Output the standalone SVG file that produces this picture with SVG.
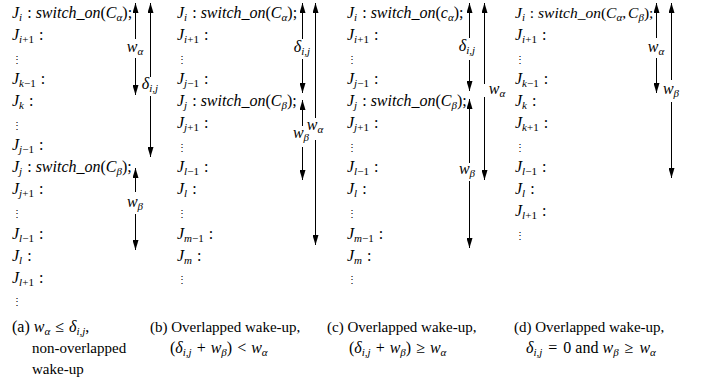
<svg xmlns="http://www.w3.org/2000/svg" width="702" height="385" viewBox="0 0 702 385">
<style>
text{font-family:"Liberation Serif",serif;fill:#000}
.t{font-size:16px}
.c{font-size:15px}
.i{font-style:italic}
.s{font-size:11px}
.d{font-size:10px}
.ln{stroke:#000;stroke-width:1;fill:none;marker-end:url(#ah)}
</style>
<defs>
<marker id="ah" viewBox="0 0 10 6" refX="10" refY="3" markerWidth="10" markerHeight="6" markerUnits="userSpaceOnUse" orient="auto">
<path d="M0,0 L10,3 L0,6 z" fill="#000"/>
</marker>
</defs>
<rect width="702" height="385" fill="#fff"/>

<g id="col-a">
<text class="t" x="12" y="18"><tspan class="i">J</tspan><tspan class="s i" dy="3">i</tspan><tspan dy="-3" dx="1"> : </tspan><tspan class="i">switch</tspan>_<tspan class="i">on</tspan>(<tspan class="i">C</tspan><tspan class="s i" dy="3">α</tspan><tspan dy="-3">);</tspan></text>
<text class="t" x="12" y="40"><tspan class="i">J</tspan><tspan class="s" dy="3"><tspan class="i">i</tspan>+1</tspan><tspan dy="-3" dx="1"> :</tspan></text>
<text class="d" x="12" y="63">⋮</text>
<text class="t" x="12" y="84"><tspan class="i">J</tspan><tspan class="s" dy="3"><tspan class="i">k</tspan>−1</tspan><tspan dy="-3" dx="1"> :</tspan></text>
<text class="t" x="12" y="106"><tspan class="i">J</tspan><tspan class="s i" dy="3">k</tspan><tspan dy="-3" dx="1"> :</tspan></text>
<text class="d" x="12" y="129">⋮</text>
<text class="t" x="12" y="150"><tspan class="i">J</tspan><tspan class="s" dy="3"><tspan class="i">j</tspan>−1</tspan><tspan dy="-3" dx="1"> :</tspan></text>
<text class="t" x="12" y="172"><tspan class="i">J</tspan><tspan class="s i" dy="3">j</tspan><tspan dy="-3" dx="1"> : </tspan><tspan class="i">switch</tspan>_<tspan class="i">on</tspan>(<tspan class="i">C</tspan><tspan class="s i" dy="3">β</tspan><tspan dy="-3">);</tspan></text>
<text class="t" x="12" y="194"><tspan class="i">J</tspan><tspan class="s" dy="3"><tspan class="i">j</tspan>+1</tspan><tspan dy="-3" dx="1"> :</tspan></text>
<text class="d" x="12" y="217">⋮</text>
<text class="t" x="12" y="239"><tspan class="i">J</tspan><tspan class="s" dy="3"><tspan class="i">l</tspan>−1</tspan><tspan dy="-3" dx="1"> :</tspan></text>
<text class="t" x="12" y="261"><tspan class="i">J</tspan><tspan class="s i" dy="3">l</tspan><tspan dy="-3" dx="1"> :</tspan></text>
<text class="t" x="12" y="283"><tspan class="i">J</tspan><tspan class="s" dy="3"><tspan class="i">l</tspan>+1</tspan><tspan dy="-3" dx="1"> :</tspan></text>
<text class="d" x="12" y="305">⋮</text>
<text class="t" x="12" y="332">(a) <tspan class="i">w</tspan><tspan class="s i" dy="3">α</tspan><tspan dy="-3" dx="1"> ≤ </tspan><tspan class="i" dx="1">δ</tspan><tspan class="s i" dy="3">i,j</tspan><tspan dy="-3">,</tspan></text>
<text class="c" x="32" y="353">non-overlapped</text>
<text class="c" x="32" y="374">wake-up</text>
</g>

<g id="col-b">
<text class="t" x="177" y="18"><tspan class="i">J</tspan><tspan class="s i" dy="3">i</tspan><tspan dy="-3" dx="1"> : </tspan><tspan class="i">switch</tspan>_<tspan class="i">on</tspan>(<tspan class="i">C</tspan><tspan class="s i" dy="3">α</tspan><tspan dy="-3">);</tspan></text>
<text class="t" x="177" y="40"><tspan class="i">J</tspan><tspan class="s" dy="3"><tspan class="i">i</tspan>+1</tspan><tspan dy="-3" dx="1"> :</tspan></text>
<text class="d" x="177" y="63">⋮</text>
<text class="t" x="177" y="84"><tspan class="i">J</tspan><tspan class="s" dy="3"><tspan class="i">j</tspan>−1</tspan><tspan dy="-3" dx="1"> :</tspan></text>
<text class="t" x="177" y="106"><tspan class="i">J</tspan><tspan class="s i" dy="3">j</tspan><tspan dy="-3" dx="1"> : </tspan><tspan class="i">switch</tspan>_<tspan class="i">on</tspan>(<tspan class="i">C</tspan><tspan class="s i" dy="3">β</tspan><tspan dy="-3">);</tspan></text>
<text class="t" x="177" y="128"><tspan class="i">J</tspan><tspan class="s" dy="3"><tspan class="i">j</tspan>+1</tspan><tspan dy="-3" dx="1"> :</tspan></text>
<text class="d" x="177" y="151">⋮</text>
<text class="t" x="177" y="172"><tspan class="i">J</tspan><tspan class="s" dy="3"><tspan class="i">l</tspan>−1</tspan><tspan dy="-3" dx="1"> :</tspan></text>
<text class="t" x="177" y="194"><tspan class="i">J</tspan><tspan class="s i" dy="3">l</tspan><tspan dy="-3" dx="1"> :</tspan></text>
<text class="d" x="177" y="217">⋮</text>
<text class="t" x="177" y="239"><tspan class="i">J</tspan><tspan class="s" dy="3"><tspan class="i">m</tspan>−1</tspan><tspan dy="-3" dx="1"> :</tspan></text>
<text class="t" x="177" y="261"><tspan class="i">J</tspan><tspan class="s i" dy="3">m</tspan><tspan dy="-3" dx="1"> :</tspan></text>
<text class="d" x="177" y="283">⋮</text>
<text class="c" x="150" y="332">(b) Overlapped wake-up,</text>
<text class="t" x="170" y="353">(<tspan class="i">δ</tspan><tspan class="s i" dy="3">i,j</tspan><tspan dy="-3" dx="1"> + </tspan><tspan class="i" dx="1">w</tspan><tspan class="s i" dy="3">β</tspan><tspan dy="-3">) </tspan><tspan dx="1">&lt; </tspan><tspan class="i" dx="1">w</tspan><tspan class="s i" dy="3">α</tspan></text>
</g>

<g id="col-c">
<text class="t" x="347" y="18"><tspan class="i">J</tspan><tspan class="s i" dy="3">i</tspan><tspan dy="-3" dx="1"> : </tspan><tspan class="i">switch</tspan>_<tspan class="i">on</tspan>(<tspan class="i">c</tspan><tspan class="s i" dy="3">α</tspan><tspan dy="-3">);</tspan></text>
<text class="t" x="347" y="40"><tspan class="i">J</tspan><tspan class="s" dy="3"><tspan class="i">i</tspan>+1</tspan><tspan dy="-3" dx="1"> :</tspan></text>
<text class="d" x="347" y="63">⋮</text>
<text class="t" x="347" y="84"><tspan class="i">J</tspan><tspan class="s" dy="3"><tspan class="i">j</tspan>−1</tspan><tspan dy="-3" dx="1"> :</tspan></text>
<text class="t" x="347" y="106"><tspan class="i">J</tspan><tspan class="s i" dy="3">j</tspan><tspan dy="-3" dx="1"> : </tspan><tspan class="i">switch</tspan>_<tspan class="i">on</tspan>(<tspan class="i">C</tspan><tspan class="s i" dy="3">β</tspan><tspan dy="-3">);</tspan></text>
<text class="t" x="347" y="128"><tspan class="i">J</tspan><tspan class="s" dy="3"><tspan class="i">j</tspan>+1</tspan><tspan dy="-3" dx="1"> :</tspan></text>
<text class="d" x="347" y="151">⋮</text>
<text class="t" x="347" y="172"><tspan class="i">J</tspan><tspan class="s" dy="3"><tspan class="i">l</tspan>−1</tspan><tspan dy="-3" dx="1"> :</tspan></text>
<text class="t" x="347" y="194"><tspan class="i">J</tspan><tspan class="s i" dy="3">l</tspan><tspan dy="-3" dx="1"> :</tspan></text>
<text class="d" x="347" y="217">⋮</text>
<text class="t" x="347" y="239"><tspan class="i">J</tspan><tspan class="s" dy="3"><tspan class="i">m</tspan>−1</tspan><tspan dy="-3" dx="1"> :</tspan></text>
<text class="t" x="347" y="261"><tspan class="i">J</tspan><tspan class="s i" dy="3">m</tspan><tspan dy="-3" dx="1"> :</tspan></text>
<text class="d" x="347" y="283">⋮</text>
<text class="c" x="327" y="332">(c) Overlapped wake-up,</text>
<text class="t" x="349" y="353">(<tspan class="i">δ</tspan><tspan class="s i" dy="3">i,j</tspan><tspan dy="-3" dx="1"> + </tspan><tspan class="i" dx="1">w</tspan><tspan class="s i" dy="3">β</tspan><tspan dy="-3">) </tspan><tspan dx="1">≥ </tspan><tspan class="i" dx="1">w</tspan><tspan class="s i" dy="3">α</tspan></text>
</g>

<g id="col-d">
<text class="t" x="515" y="18" style="font-size:15.5px"><tspan class="i">J</tspan><tspan class="s i" dy="3">i</tspan><tspan dy="-3" dx="1"> : </tspan><tspan class="i">switch</tspan>_<tspan class="i">on</tspan>(<tspan class="i">C</tspan><tspan class="s i" dy="3">α</tspan><tspan dy="-3">,</tspan><tspan class="i" dx="2">C</tspan><tspan class="s i" dy="3">β</tspan><tspan dy="-3">);</tspan></text>
<text class="t" x="515" y="40"><tspan class="i">J</tspan><tspan class="s" dy="3"><tspan class="i">i</tspan>+1</tspan><tspan dy="-3" dx="1"> :</tspan></text>
<text class="d" x="515" y="63">⋮</text>
<text class="t" x="515" y="84"><tspan class="i">J</tspan><tspan class="s" dy="3"><tspan class="i">k</tspan>−1</tspan><tspan dy="-3" dx="1"> :</tspan></text>
<text class="t" x="515" y="106"><tspan class="i">J</tspan><tspan class="s i" dy="3">k</tspan><tspan dy="-3" dx="1"> :</tspan></text>
<text class="t" x="515" y="128"><tspan class="i">J</tspan><tspan class="s" dy="3"><tspan class="i">k</tspan>+1</tspan><tspan dy="-3" dx="1"> :</tspan></text>
<text class="d" x="515" y="151">⋮</text>
<text class="t" x="515" y="172"><tspan class="i">J</tspan><tspan class="s" dy="3"><tspan class="i">l</tspan>−1</tspan><tspan dy="-3" dx="1"> :</tspan></text>
<text class="t" x="515" y="194"><tspan class="i">J</tspan><tspan class="s i" dy="3">l</tspan><tspan dy="-3" dx="1"> :</tspan></text>
<text class="t" x="515" y="216"><tspan class="i">J</tspan><tspan class="s" dy="3"><tspan class="i">l</tspan>+1</tspan><tspan dy="-3" dx="1"> :</tspan></text>
<text class="d" x="515" y="239">⋮</text>
<text class="c" x="514" y="332">(d) Overlapped wake-up,</text>
<text class="t" x="526" y="353"><tspan class="i">δ</tspan><tspan class="s i" dy="3">i,j</tspan><tspan dy="-3" dx="2"> = </tspan><tspan dx="2">0 and </tspan><tspan class="i">w</tspan><tspan class="s i" dy="3">β</tspan><tspan dy="-3" dx="2"> ≥ </tspan><tspan class="i" dx="2">w</tspan><tspan class="s i" dy="3">α</tspan></text>
</g>

<g id="labels">
<text class="t" x="135" y="52" text-anchor="middle"><tspan class="i">w</tspan><tspan class="s i" dy="3">α</tspan></text>
<text class="t" x="150" y="89" text-anchor="middle"><tspan class="i">δ</tspan><tspan class="s i" dy="3">i,j</tspan></text>
<text class="t" x="135" y="207" text-anchor="middle"><tspan class="i">w</tspan><tspan class="s i" dy="3">β</tspan></text>
<text class="t" x="302" y="52" text-anchor="middle"><tspan class="i">δ</tspan><tspan class="s i" dy="3">i,j</tspan></text>
<text class="t" x="301" y="138" text-anchor="middle"><tspan class="i">w</tspan><tspan class="s i" dy="3">β</tspan></text>
<text class="t" x="315" y="130" text-anchor="middle"><tspan class="i">w</tspan><tspan class="s i" dy="3">α</tspan></text>
<text class="t" x="467" y="51" text-anchor="middle"><tspan class="i">δ</tspan><tspan class="s i" dy="3">i,j</tspan></text>
<text class="t" x="467" y="174" text-anchor="middle"><tspan class="i">w</tspan><tspan class="s i" dy="3">β</tspan></text>
<text class="t" x="497" y="94" text-anchor="middle"><tspan class="i">w</tspan><tspan class="s i" dy="3">α</tspan></text>
<text class="t" x="656" y="52" text-anchor="middle"><tspan class="i">w</tspan><tspan class="s i" dy="3">α</tspan></text>
<text class="t" x="671" y="94" text-anchor="middle"><tspan class="i">w</tspan><tspan class="s i" dy="3">β</tspan></text>
</g>

<g id="connectors">
<path class="ln" d="M135.5,39 V3"/>
<path class="ln" d="M135.5,58 V95"/>
<path class="ln" d="M150.5,77 V3"/>
<path class="ln" d="M150.5,96 V157"/>
<path class="ln" d="M135.5,192 V168"/>
<path class="ln" d="M135.5,214 V250"/>

<path class="ln" d="M302.5,39 V3"/>
<path class="ln" d="M302.5,59 V93"/>
<path class="ln" d="M302.5,126 V100"/>
<path class="ln" d="M302.5,147 V180"/>
<path class="ln" d="M315.5,118 V3"/>
<path class="ln" d="M315.5,140 V245"/>

<path class="ln" d="M469.5,38 V3"/>
<path class="ln" d="M469.5,60 V91"/>
<path class="ln" d="M469.5,163 V99"/>
<path class="ln" d="M469.5,181 V248"/>
<path class="ln" d="M484.5,84 V3"/>
<path class="ln" d="M484.5,97 V180"/>

<path class="ln" d="M656.5,38 V3"/>
<path class="ln" d="M656.5,58 V93"/>
<path class="ln" d="M671.5,80 V3"/>
<path class="ln" d="M671.5,102 V178"/>
</g>
</svg>
